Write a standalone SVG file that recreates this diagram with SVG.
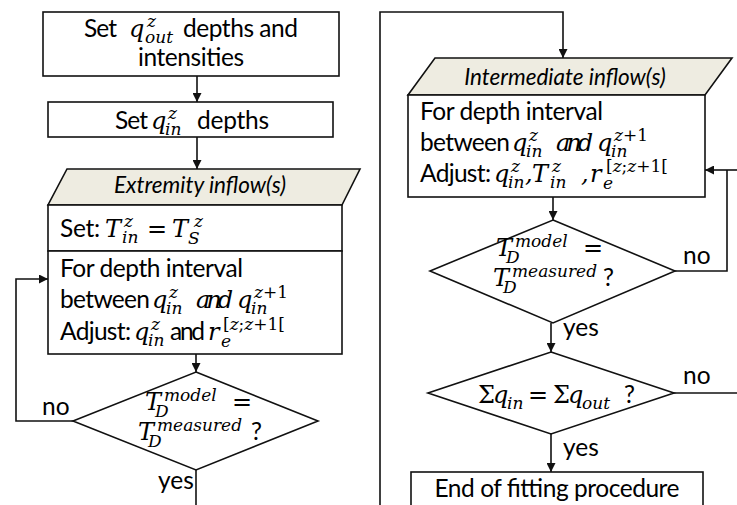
<svg xmlns="http://www.w3.org/2000/svg" width="737" height="505" viewBox="0 0 737 505">
<style>
.bx{fill:#fff;stroke:#111;stroke-width:1.6}
.pg{fill:#EEECE1;stroke:#111;stroke-width:1.6}
.ln{fill:none;stroke:#111;stroke-width:1.6}
.b{font-family:Lato,"Liberation Sans",sans-serif;font-size:24.5px;fill:#000}
.bi{font-family:Lato,"Liberation Sans",sans-serif;font-size:22.5px;font-style:italic;fill:#000}
.m{font-family:"DejaVu Serif",serif;font-style:italic;font-size:24px;fill:#000}
.mu{font-family:"DejaVu Serif",serif;font-size:24px;fill:#000}
.s{font-family:"DejaVu Serif",serif;font-style:italic;font-size:17px;fill:#000}
.su{font-style:normal}
</style>
<defs>
<marker id="ah" viewBox="0 0 10 10" refX="10" refY="5" markerWidth="9" markerHeight="9" markerUnits="userSpaceOnUse" orient="auto"><path d="M0,0 L10,5 L0,10 z" fill="#111"/></marker>
</defs>

<g id="connectors">
<line class="ln" x1="197" y1="76" x2="197" y2="102" marker-end="url(#ah)"/>
<line class="ln" x1="197" y1="137" x2="197" y2="169" marker-end="url(#ah)"/>
<line class="ln" x1="196" y1="354" x2="196" y2="372" marker-end="url(#ah)"/>
<line class="ln" x1="196" y1="470" x2="196" y2="505"/>
<polyline class="ln" points="73,421 16,421 16,279 48,279" marker-end="url(#ah)"/>
<polyline class="ln" points="380,505 380,12 563,12 563,58" marker-end="url(#ah)"/>
<line class="ln" x1="553" y1="197" x2="553" y2="220" marker-end="url(#ah)"/>
<polyline class="ln" points="675,271 727,271 727,170"/>
<line class="ln" x1="737" y1="170" x2="705" y2="170" marker-end="url(#ah)"/>
<line class="ln" x1="551" y1="323" x2="551" y2="352" marker-end="url(#ah)"/>
<line class="ln" x1="674" y1="393" x2="737" y2="393"/>
<line class="ln" x1="551" y1="434" x2="551" y2="472" marker-end="url(#ah)"/>
<text class="b" x="42" y="415">no</text>
<text class="b" x="158" y="489">yes</text>
<text class="b" x="683" y="264">no</text>
<text class="b" x="563" y="336">yes</text>
<text class="b" x="683" y="384">no</text>
<text class="b" x="563" y="456">yes</text>
</g>

<g id="set-qout">
<rect class="bx" x="43" y="12" width="296" height="64"/>
<text class="b" x="84" y="37" textLength="33">Set</text>
<text class="m" x="129" y="37">q</text>
<text class="s" x="147" y="27">z</text>
<text class="s" x="145" y="43">out</text>
<text class="b" x="183" y="37" textLength="115">depths and</text>
<text class="b" x="191" y="66" text-anchor="middle" textLength="106">intensities</text>
</g>

<g id="set-qin">
<rect class="bx" x="48" y="102" width="285" height="35"/>
<text class="b" x="115" y="129" textLength="33">Set</text>
<text class="m" x="151" y="129">q</text>
<text class="s" x="168" y="119">z</text>
<text class="s" x="165" y="135">in</text>
<text class="b" x="197" y="129" textLength="72">depths</text>
</g>

<g id="extremity-inflow">
<polygon class="pg" points="67,169 360,169 342,205 48,205"/>
<text class="bi" x="200" y="193" text-anchor="middle">Extremity inflow(s)</text>
</g>

<g id="set-tin">
<rect class="bx" x="48" y="205" width="294" height="46"/>
<text class="b" x="60" y="237" textLength="40">Set:</text>
<text class="m" x="105" y="237">T</text>
<text class="s" x="124" y="227">z</text>
<text class="s" x="122" y="243">in</text>
<text class="mu" x="147" y="237">=</text>
<text class="m" x="172" y="237">T</text>
<text class="s" x="188" y="244">S</text>
<text class="s" x="194" y="227">z</text>
</g>

<g id="adjust-extremity">
<rect class="bx" x="48" y="251" width="294" height="103"/>
<text class="b" x="60" y="277" textLength="183">For depth interval</text>
<text class="b" x="60" y="308" textLength="90">between</text>
<text class="m" x="152" y="308">q</text>
<text class="s" x="169" y="298">z</text>
<text class="s" x="166" y="314">in</text>
<text class="m" x="196" y="308" textLength="37">and</text>
<text class="m" x="237" y="308">q</text>
<text class="s" x="254" y="298">z<tspan class="su">+1</tspan></text>
<text class="s" x="251" y="314">in</text>
<text class="b" x="60" y="340" textLength="71">Adjust:</text>
<text class="m" x="134" y="340">q</text>
<text class="s" x="151" y="330">z</text>
<text class="s" x="148" y="346">in</text>
<text class="b" x="170" y="340" textLength="35">and</text>
<text class="m" x="208" y="340">r</text>
<text class="s" x="223" y="330"><tspan class="su">[</tspan>z<tspan class="su">;</tspan>z<tspan class="su">+1[</tspan></text>
<text class="s" x="221" y="347">e</text>
</g>

<g id="check-extremity">
<polygon class="bx" points="196,372 318,421 196,470 73,421"/>
<text class="m" x="145" y="410">T</text>
<text class="s" x="164" y="401">model</text>
<text class="s" x="155" y="417">D</text>
<text class="mu" x="232" y="410">=</text>
<text class="m" x="138" y="440">T</text>
<text class="s" x="157" y="431">measured</text>
<text class="s" x="148" y="447">D</text>
<text class="b" x="251" y="440">?</text>
</g>

<g id="intermediate-inflow">
<polygon class="pg" points="435,58 732,58 705,95 408,95"/>
<text class="bi" x="565" y="85" text-anchor="middle">Intermediate inflow(s)</text>
</g>

<g id="adjust-intermediate">
<rect class="bx" x="408" y="95" width="297" height="102"/>
<text class="b" x="420" y="120" textLength="183">For depth interval</text>
<text class="b" x="420" y="151" textLength="90">between</text>
<text class="m" x="512" y="151">q</text>
<text class="s" x="529" y="141">z</text>
<text class="s" x="526" y="157">in</text>
<text class="m" x="556" y="151" textLength="37">and</text>
<text class="m" x="597" y="151">q</text>
<text class="s" x="614" y="141">z<tspan class="su">+1</tspan></text>
<text class="s" x="611" y="157">in</text>
<text class="b" x="420" y="182" textLength="71">Adjust:</text>
<text class="m" x="494" y="182">q</text>
<text class="s" x="511" y="172">z</text>
<text class="s" x="508" y="188">in</text>
<text class="m" x="525" y="182">,</text>
<text class="m" x="532" y="182">T</text>
<text class="s" x="552" y="172">z</text>
<text class="s" x="550" y="188">in</text>
<text class="m" x="581" y="182">,</text>
<text class="m" x="590" y="182">r</text>
<text class="s" x="606" y="172"><tspan class="su">[</tspan>z<tspan class="su">;</tspan>z<tspan class="su">+1[</tspan></text>
<text class="s" x="603" y="189">e</text>
</g>

<g id="check-intermediate">
<polygon class="bx" points="553,220 675,271 553,323 430,271"/>
<text class="m" x="496" y="256">T</text>
<text class="s" x="515" y="247">model</text>
<text class="s" x="506" y="263">D</text>
<text class="mu" x="583" y="256">=</text>
<text class="m" x="493" y="286">T</text>
<text class="s" x="512" y="277">measured</text>
<text class="s" x="503" y="293">D</text>
<text class="b" x="603" y="286">?</text>
</g>

<g id="check-balance">
<polygon class="bx" points="551,352 674,393 551,434 428,393"/>
<text class="mu" x="478" y="403">Σ</text>
<text class="m" x="493" y="403">q</text>
<text class="s" x="507" y="409">in</text>
<text class="mu" x="528" y="403">=</text>
<text class="mu" x="553" y="403">Σ</text>
<text class="m" x="568" y="403">q</text>
<text class="s" x="582" y="409">out</text>
<text class="b" x="624" y="403">?</text>
</g>

<g id="end">
<rect class="bx" x="411" y="472" width="292" height="45"/>
<text class="b" x="557" y="497" text-anchor="middle" textLength="245">End of fitting procedure</text>
</g>
</svg>
